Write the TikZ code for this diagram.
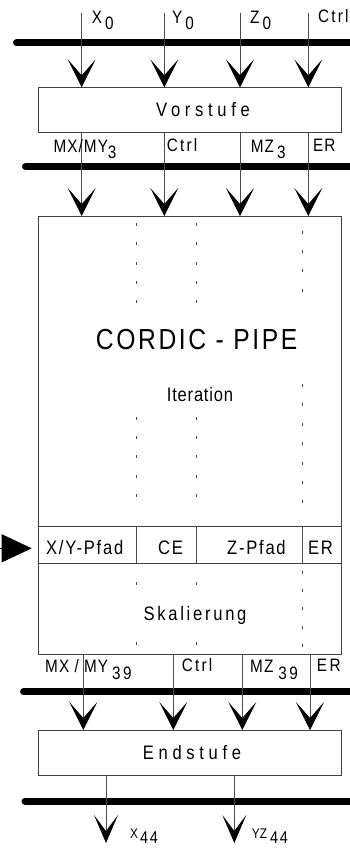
\documentclass[tikz,border=0pt]{standalone}
\usepackage{fontspec}
\setmainfont{Liberation Sans}
\newfontfamily\nar[FakeStretch=0.85]{Liberation Sans}
\usetikzlibrary{arrows.meta}
\newcommand\sbs[1]{\hspace{3pt}\raisebox{-6.5pt}{#1}}
\newcommand\ctl{{\addfontfeature{LetterSpace=12}Ctrl}}
\begin{document}
\begin{tikzpicture}[x=1pt,y=-1pt,
  bus/.style={line width=7pt,line cap=round,black},
  sig/.style={line width=0.9pt,black!70,-{Stealth[length=28pt,width=28pt,inset=16pt,black]}},
  sigs/.style={line width=0.9pt,black!70,-{Stealth[length=28pt,width=24pt,inset=16pt,black]}},
  plain/.style={line width=0.9pt,black!70},
  box/.style={draw=black!75,line width=0.9pt,anchor=north west,inner sep=0pt},
  lab/.style={inner sep=0pt,anchor=base west,font=\nar\fontsize{18}{18}\selectfont\addfontfeature{LetterSpace=6}},
  rowt/.style={inner sep=0pt,anchor=base west,font=\nar\fontsize{19.5}{19.5}\selectfont\addfontfeature{LetterSpace=9}},
  big/.style={inner sep=0pt,font=\nar\fontsize{19.5}{19.5}\selectfont\addfontfeature{LetterSpace=24}},
  dots/.style={line width=1pt,black!70}
]
\useasboundingbox (0,0) rectangle (350,852);

% boxes
\node[box,minimum width=303pt,minimum height=45pt] (vor) at (37.7,87.3) {};
\node[box,minimum width=303pt,minimum height=438.3pt] (cordic) at (37.7,216) {};
\node[box,minimum width=303pt,minimum height=37.3pt] (row) at (37.7,526) {};
\node[box,minimum width=303pt,minimum height=45pt] (end) at (37.7,730) {};

% x positions
\coordinate (xa) at (81.7,0);
\coordinate (xb) at (164.3,0);
\coordinate (xc) at (240,0);
\coordinate (xd) at (308.3,0);
\coordinate (xe) at (83.3,0);
\coordinate (xf) at (173.3,0);
\coordinate (xg) at (242.3,0);
\coordinate (xh) at (310,0);
\coordinate (xi) at (106,0);
\coordinate (xj) at (234.3,0);

% buses
\coordinate (b1l) at (16.5,42.7); \coordinate (b1r) at (355,42.7);
\coordinate (b2l) at (25.5,166.7); \coordinate (b2r) at (355,166.7);
\coordinate (b3l) at (23.5,691.7); \coordinate (b3r) at (355,691.7);
\coordinate (b4l) at (25,801); \coordinate (b4r) at (355,801);
\draw[bus] (b1l) -- (b1r);
\draw[bus] (b2l) -- (b2r);
\draw[bus] (b3l) -- (b3r);
\draw[bus] (b4l) -- (b4r);

% inputs
\coordinate (top) at (0,12.7);
\foreach \p in {xa,xb,xc,xd}{
  \draw[sig] (top -| \p) -- (vor.north -| \p);
  \draw[sig] (vor.south -| \p) -- (cordic.north -| \p);
}
\foreach \p in {xe,xf,xg,xh}{
  \draw[plain] (cordic.south -| \p) -- (b3l -| \p);
  \draw[sig] (b3l -| \p) -- (end.north -| \p);
}
\coordinate (bot) at (0,843);
\foreach \p in {xi,xj}{
  \draw[sigs] (end.south -| \p) -- (bot -| \p);
}

% row separators
\foreach \x in {136,196.7,302.7}{
  \draw[plain] (\x,526) -- (\x,563.3);
}

% left arrow
\coordinate (la) at (0,548.3);
\coordinate (lb) at (31.7,548.3);
\draw[line width=0.9pt,-{Triangle[length=30pt,width=28pt,black]}] (la) -- (lb);

% dotted lines
\foreach \x in {136,196.7}{
  \draw[dots,dash pattern=on 3pt off 16.3pt] (\x,223) -- (\x,304);
  \draw[dots,dash pattern=on 3pt off 16.3pt] (\x,416.7) -- (\x,498);
  \draw[dots,dash pattern=on 3pt off 57pt] (\x,582) -- (\x,646);
}
\draw[dots,dash pattern=on 3pt off 16.4pt] (302.7,230.5) -- (302.7,293);
\draw[dots,dash pattern=on 3pt off 16.4pt] (302.7,384) -- (302.7,504);
\draw[dots,dash pattern=on 3pt off 15.4pt] (302.7,570.5) -- (302.7,648);

% top labels
\node[lab] (l1) at (91.7,23) {X\sbs{0}};
\node[lab] (l2) at (172,23) {Y\sbs{0}};
\node[lab] (l3) at (250,23) {Z\sbs{0}};
\node[lab] (l4) at (318,22) {\ctl};

% second labels
\node[lab] (m1) at (53.3,152) {MX/MY\raisebox{-6pt}{3}};
\node[lab] (m2) at (166.7,151) {\ctl};
\node[lab] (m3) at (250.7,152) {MZ\sbs{3}};
\node[lab] (m4) at (313,151) {ER};

% box texts
\node[big] (vt) at (203,110) {Vorstufe};
\node[inner sep=0pt,font=\nar\fontsize{29}{29}\selectfont\addfontfeature{LetterSpace=9}] (ct) at (196.7,340) {CORDIC - PIPE};
\node[inner sep=0pt,font=\nar\fontsize{19.5}{19.5}\selectfont\addfontfeature{LetterSpace=4}] (it) at (200,395) {Iteration};
\node[rowt] (r1) at (46,554) {X/Y-Pfad};
\node[rowt] (r2) at (158,554) {CE};
\node[rowt] (r3) at (227,554) {Z-Pfad};
\node[rowt] (r4) at (308,554) {ER};
\node[big,font=\nar\fontsize{19.5}{19.5}\selectfont\addfontfeature{LetterSpace=14}] (sk) at (195,615) {Skalierung};
\node[big] (et) at (192,753) {Endstufe};

% bottom labels
\node[lab] (n1) at (45,672.3) {MX / MY\hspace{4pt}\raisebox{-7pt}{{\addfontfeature{LetterSpace=14}39}}};
\node[lab] (n2) at (181.7,671.5) {\ctl};
\node[lab] (n3) at (250,672.3) {MZ\hspace{5pt}\raisebox{-7pt}{\addfontfeature{LetterSpace=14}39}};
\node[lab] (n4) at (316.7,671.5) {\addfontfeature{LetterSpace=14}ER};

% outputs
\node[lab,font=\nar\fontsize{14}{14}\selectfont] (o1) at (130,838) {X\hspace{2pt}\raisebox{-5pt}{\fontsize{17}{17}\selectfont\addfontfeature{LetterSpace=10}44}};
\node[lab,font=\nar\fontsize{14}{14}\selectfont] (o2) at (251.7,838) {YZ\hspace{3pt}\raisebox{-5pt}{\fontsize{17}{17}\selectfont\addfontfeature{LetterSpace=10}44}};
\end{tikzpicture}
\end{document}
